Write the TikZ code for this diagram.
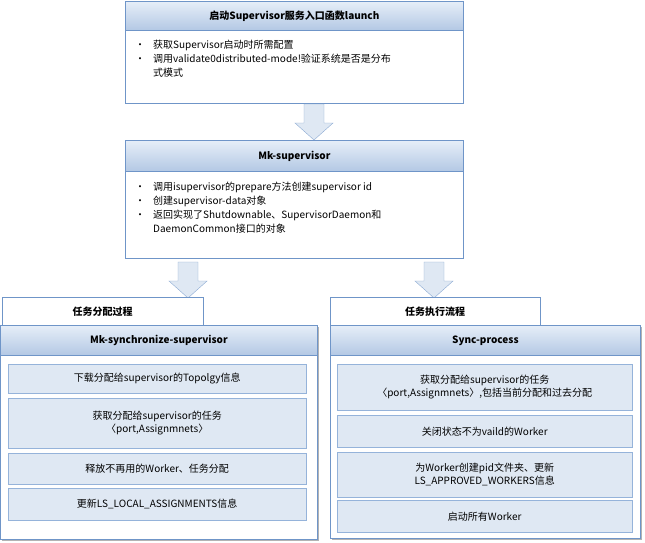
\documentclass[tikz,border=0pt]{standalone}
\usepackage{fontspec}
\setmainfont{Noto Sans CJK SC}
\usetikzlibrary{shadows}
\definecolor{frameblue}{HTML}{6F95C8}
\definecolor{headtop}{HTML}{E6EEF8}
\definecolor{headbot}{HTML}{B3C8E4}
\definecolor{itemfill}{HTML}{DFE8F3}
\definecolor{itemline}{HTML}{95B3DA}
\newcommand{\bul}{\makebox[18pt][l]{\textbullet}}
\newcommand{\downarrowblock}[2]{\draw[blockarrow] (#1-10,#2) -- (#1+10,#2) -- (#1+10,#2+19) -- (#1+19,#2+19) -- (#1,#2+36) -- (#1-19,#2+19) -- (#1-10,#2+19) -- cycle;}
\tikzset{
  panel/.style={draw=frameblue,fill=white,line width=0.8pt,anchor=north west,inner sep=0pt},
  shadowpanel/.style={panel,drop shadow={shadow xshift=2pt,shadow yshift=-2pt,opacity=0.6}},
  head/.style={draw=frameblue,line width=0.8pt,top color=headtop,bottom color=headbot,anchor=north west,inner sep=0pt,font=\bfseries},
  itembox/.style={draw=itemline,fill=itemfill,anchor=north west,inner sep=0pt,align=center,font=\fontsize{10}{13}\selectfont},
  tab/.style={draw=frameblue,fill=white,anchor=north west,inner sep=0pt,font=\bfseries},
  blockarrow/.style={draw=frameblue!80,fill=itemfill,line join=miter},
  bullets/.style={anchor=north west,align=left,font=\fontsize{10}{12}\selectfont,inner sep=0pt}
}
\begin{document}
\begin{tikzpicture}[x=1pt,y=-1pt]
\useasboundingbox (0,0) rectangle (645,542);
% top box
\node[panel,minimum width=338pt,minimum height=102pt] (launch) at (125,1) {};
\node[head,minimum width=338pt,minimum height=29pt] (launchhead) at (125,1) {启动Supervisor服务入口函数launch};
\node[bullets] (launchtext) at (135,40) {\bul 获取Supervisor启动时所需配置\\[2pt]\bul 调用validate0distributed-mode!验证系统是否是分布\\[2pt]\hspace*{18pt}式模式};
\downarrowblock{314}{104}
% mk-supervisor
\node[panel,minimum width=338pt,minimum height=118pt] (mksup) at (125,140) {};
\node[head,minimum width=338pt,minimum height=31pt] (mksuphead) at (125,140) {Mk-supervisor};
\node[bullets] (mksuptext) at (135,182) {\bul 调用isupervisor的prepare方法创建supervisor id\\[2pt]\bul 创建supervisor-data对象\\[2pt]\bul 返回实现了Shutdownable、SupervisorDaemon和\\[2pt]\hspace*{18pt}DaemonCommon接口的对象};
\downarrowblock{188}{262}
\downarrowblock{434}{262}
% left panel
\node[tab,minimum width=201pt,minimum height=29pt] (lefttab) at (2,297) {任务分配过程};
\node[shadowpanel,minimum width=317pt,minimum height=214pt] (left) at (0,325) {};
\node[head,minimum width=317pt,minimum height=30pt] (lefthead) at (0,325) {Mk-synchronize-supervisor};
\node[itembox,minimum width=298pt,minimum height=29pt] (l1) at (8,364) {下载分配给supervisor的Topolgy信息};
\node[itembox,minimum width=298pt,minimum height=50pt] (l2) at (8,398) {获取分配给supervisor的任务\\〈port,Assignmnets〉};
\node[itembox,minimum width=298pt,minimum height=31pt] (l3) at (8,453) {释放不再用的Worker、任务分配};
\node[itembox,minimum width=298pt,minimum height=32pt] (l4) at (8,488) {更新LS\_LOCAL\_ASSIGNMENTS信息};
% right panel
\node[tab,minimum width=210pt,minimum height=29pt] (righttab) at (330,297) {任务执行流程};
\node[shadowpanel,minimum width=310pt,minimum height=213pt] (right) at (330,325) {};
\node[head,minimum width=310pt,minimum height=30pt] (righthead) at (330,325) {Sync-process};
\node[itembox,minimum width=295pt,minimum height=46pt] (r1) at (337,364) {获取分配给supervisor的任务\\〈port,Assignmnets〉,包括当前分配和过去分配};
\node[itembox,minimum width=295pt,minimum height=32pt] (r2) at (337,415) {关闭状态不为vaild的Worker};
\node[itembox,minimum width=295pt,minimum height=45pt] (r3) at (337,452) {为Worker创建pid文件夹、更新\\LS\_APPROVED\_WORKERS信息};
\node[itembox,minimum width=295pt,minimum height=32pt] (r4) at (337,500) {启动所有Worker};
\end{tikzpicture}
\end{document}
